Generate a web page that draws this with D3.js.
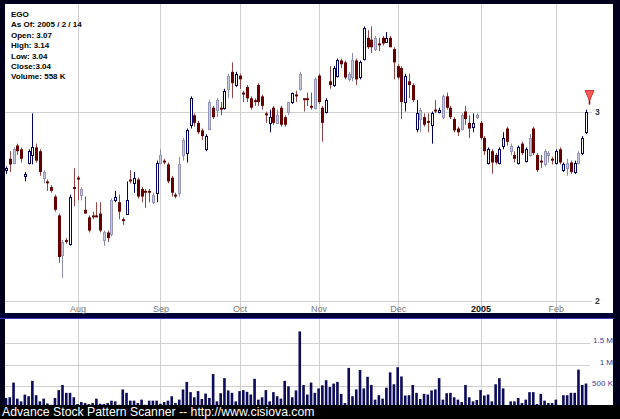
<!DOCTYPE html>
<html><head><meta charset="utf-8">
<script src="https://cdn.jsdelivr.net/npm/d3@7"></script>
<style>html,body{margin:0;padding:0;background:#000;} svg{display:block;}</style>
</head><body>
<svg id="c" width="620" height="419"></svg>
<script>
// ---- data ----
const openP = [2.69,2.75,2.73,2.82,2.80,2.66,2.73,2.77,2.81,2.79,2.65,2.63,2.60,2.55,2.45,2.24,2.32,2.30,2.60,2.65,
2.56,2.48,2.44,2.45,2.45,2.46,2.32,2.36,2.35,2.53,2.52,2.43,2.46,2.64,2.62,2.64,2.59,2.58,2.58,2.52,
2.57,2.73,2.74,2.72,2.65,2.56,2.57,2.77,2.78,2.93,2.98,2.94,2.90,2.80,2.91,3.02,3.01,3.02,3.02,3.12,
3.21,3.14,3.19,3.10,3.13,3.07,3.06,3.14,3.08,2.99,2.94,3.02,2.94,3.02,2.97,3.00,3.05,3.09,3.12,3.07,
3.07,3.03,3.02,3.19,3.02,3.00,3.16,3.14,3.19,3.27,3.26,3.17,3.18,3.27,3.18,3.28,3.39,3.38,3.33,3.36,
3.39,3.37,3.39,3.33,3.24,3.23,3.05,3.16,3.14,2.91,2.96,2.97,2.95,2.93,3.01,3.00,2.97,3.08,3.02,2.96,
2.91,2.91,3.00,2.94,2.92,2.97,2.94,2.86,2.73,2.79,2.77,2.73,2.82,2.91,2.79,2.77,2.73,2.83,2.74,2.77,
2.91,2.77,2.74,2.72,2.77,2.75,2.73,2.80,2.69,2.70,2.73,2.68,2.73,2.78,2.89];
const highP = [2.71,2.79,2.81,2.83,2.81,2.68,2.80,2.99,2.83,2.80,2.69,2.64,2.61,2.56,2.46,2.32,2.33,2.56,2.70,2.66,
2.60,2.55,2.45,2.47,2.52,2.52,2.37,2.37,2.54,2.58,2.56,2.44,2.63,2.69,2.68,2.65,2.60,2.59,2.59,2.57,
2.74,2.80,2.75,2.73,2.66,2.57,2.76,2.86,2.91,3.08,2.99,2.95,2.91,2.88,3.06,3.03,3.07,3.05,3.12,3.20,
3.26,3.21,3.20,3.11,3.14,3.08,3.07,3.15,3.09,3.00,3.01,3.03,3.01,3.03,2.98,3.05,3.10,3.11,3.21,3.07,
3.10,3.10,3.18,3.20,3.03,3.07,3.24,3.24,3.28,3.28,3.27,3.21,3.31,3.28,3.27,3.45,3.43,3.45,3.40,3.39,
3.40,3.42,3.40,3.34,3.25,3.24,3.20,3.20,3.15,3.06,3.02,2.99,2.99,3.00,3.06,3.02,3.09,3.10,3.03,2.97,
2.92,2.99,3.03,2.98,2.99,2.99,2.95,2.87,2.81,2.80,2.78,2.81,2.89,2.92,2.83,2.79,2.82,2.84,2.81,2.88,
2.92,2.78,2.77,2.80,2.79,2.76,2.80,2.81,2.73,2.75,2.74,2.74,2.79,2.87,3.01];
const lowP = [2.67,2.68,2.72,2.77,2.73,2.63,2.72,2.72,2.73,2.66,2.62,2.58,2.57,2.47,2.20,2.12,2.30,2.29,2.50,2.53,
2.53,2.46,2.36,2.43,2.44,2.36,2.29,2.31,2.34,2.52,2.43,2.40,2.46,2.62,2.57,2.54,2.52,2.49,2.52,2.51,
2.52,2.72,2.72,2.62,2.55,2.54,2.55,2.74,2.73,2.91,2.92,2.88,2.85,2.79,2.90,2.96,2.97,2.98,3.01,3.07,
3.07,3.13,3.12,3.05,3.05,3.01,3.03,3.03,3.01,2.94,2.89,2.93,2.94,2.92,2.92,2.98,3.04,3.05,3.11,3.00,
3.03,3.01,3.01,3.04,2.84,2.99,3.12,3.13,3.18,3.23,3.17,3.16,3.16,3.14,3.17,3.27,3.33,3.31,3.32,3.32,
3.35,3.37,3.34,3.17,3.17,2.96,3.00,3.07,3.05,2.89,2.89,2.92,2.89,2.83,2.99,2.99,2.96,3.01,2.96,2.89,
2.87,2.90,2.93,2.86,2.89,2.96,2.85,2.77,2.72,2.67,2.72,2.72,2.80,2.82,2.77,2.73,2.72,2.77,2.73,2.76,
2.77,2.68,2.70,2.71,2.73,2.72,2.72,2.72,2.68,2.66,2.67,2.67,2.72,2.77,2.88];
const closeP = [2.70,2.72,2.80,2.79,2.75,2.67,2.79,2.81,2.74,2.68,2.68,2.62,2.58,2.48,2.23,2.31,2.31,2.55,2.59,2.64,
2.59,2.46,2.37,2.44,2.44,2.37,2.36,2.33,2.53,2.55,2.47,2.42,2.53,2.63,2.65,2.55,2.55,2.57,2.57,2.56,
2.73,2.77,2.73,2.63,2.57,2.55,2.72,2.85,2.90,3.07,2.94,2.89,2.87,2.87,3.05,2.97,3.06,3.01,3.11,3.19,
3.15,3.20,3.17,3.09,3.07,3.02,3.05,3.05,3.03,2.98,2.97,2.94,2.98,2.93,2.93,3.05,3.10,3.08,3.20,3.06,
3.06,3.02,3.17,3.05,2.94,3.06,3.14,3.23,3.27,3.25,3.18,3.20,3.27,3.17,3.26,3.44,3.34,3.34,3.39,3.35,
3.36,3.39,3.34,3.26,3.18,3.05,3.19,3.14,3.06,2.99,3.01,2.93,2.94,2.99,3.00,3.01,3.08,3.02,2.97,2.90,
2.89,2.98,2.96,2.91,2.94,2.98,2.86,2.79,2.80,2.73,2.73,2.80,2.86,2.84,2.82,2.75,2.81,2.78,2.80,2.86,
2.78,2.69,2.73,2.79,2.78,2.74,2.79,2.73,2.72,2.73,2.68,2.73,2.78,2.86,3.00];
const volumeK = [222,238,580,206,143,300,262,620,286,143,206,95,63,222,405,524,341,341,238,80,
127,103,80,103,206,87,80,103,159,143,63,420,341,159,159,103,183,63,159,159,
159,87,127,159,262,103,183,420,595,357,238,381,198,325,222,778,143,333,683,397,
341,143,381,405,365,302,667,183,238,405,143,357,262,206,620,492,238,397,1770,524,
302,579,341,444,516,635,476,556,595,317,103,921,262,421,873,444,714,524,183,286,
206,460,817,540,937,722,278,286,524,341,198,317,302,397,421,683,183,333,341,238,
183,127,524,238,143,175,405,278,302,143,540,683,444,60,143,143,222,103,183,357,
357,80,317,159,103,103,183,60,286,286,341,341,881,524,558];
// bars drawn as pale (shaded) up-candles in the reference
const weakUpIdx = [2,10,15,20,26,28,39,41,46,47,54,56,59,72,75,78,82,91,92,98,110,116,121,125,134,139,143,144,149,152];
const monthIdx = [19,41,62,83,104,126,146];
const monthLabels = ["Aug","Sep","Oct","Nov","Dec","2005","Feb"];
const priceTicks = [2,3];
const volTicks = [500,1000,1500];
const infoLines = ["EGO","As Of: 2005 / 2 / 14","Open: 3.07","High: 3.14","Low: 3.04","Close:3.04","Volume: 558 K"];
const footerText = "Advance Stock Pattern Scanner -- http://www.cisiova.com";

// ---- drawing ----
const W = 620, H = 419;
const svg = d3.select("#c");
const n = closeP.length;
const bars = d3.range(n).map(i => ({i, o:openP[i], h:highP[i], l:lowP[i], c:closeP[i], v:volumeK[i], weak: weakUpIdx.includes(i)}));

const x = d3.scaleLinear().domain([0, n-1]).range([6, 586]);
const y = d3.scaleLinear().domain([2, 3]).range([300.5, 111.5]);
const yV = d3.scaleLinear().domain([0, 1000]).range([407.5, 364.5]);

// frame
svg.append("rect").attr("width", W).attr("height", H).attr("fill", "#00001c");
svg.append("rect").attr("x", 5).attr("y", 4).attr("width", 608).attr("height", 309).attr("fill", "#fff");
svg.append("rect").attr("x", 5).attr("y", 319).attr("width", 608).attr("height", 86).attr("fill", "#fff");
svg.append("rect").attr("x", 0).attr("y", 313).attr("width", 614).attr("height", 6).attr("fill", "#000038");
svg.append("line").attr("x1", 0).attr("x2", 614).attr("y1", 318.5).attr("y2", 318.5).attr("stroke", "#3a3ac0");

const grid = "#cfcfcf";
// vertical month gridlines
const gx = svg.append("g");
monthIdx.forEach(mi => {
  const px = Math.round(x(mi)) + 0.5;
  gx.append("line").attr("x1", px).attr("x2", px).attr("y1", 4).attr("y2", 313).attr("stroke", grid);
  gx.append("line").attr("x1", px).attr("x2", px).attr("y1", 319).attr("y2", 405).attr("stroke", grid);
});
// price gridlines
priceTicks.forEach(t => {
  const py = Math.round(y(t)) + 0.5;
  gx.append("line").attr("x1", 5).attr("x2", 592).attr("y1", py).attr("y2", py).attr("stroke", grid);
});
// volume gridlines
volTicks.forEach(t => {
  const py = Math.round(yV(t)) + 0.5;
  gx.append("line").attr("x1", 5).attr("x2", 590).attr("y1", py).attr("y2", py).attr("stroke", grid);
});

// price axis (right)
const pAxis = svg.append("g").attr("transform", "translate(592,0)")
  .call(d3.axisRight(y).tickValues(priceTicks).tickSize(0).tickPadding(3).tickFormat(d3.format("d")));
pAxis.select(".domain").remove();
pAxis.selectAll("text").attr("font-family", "Liberation Sans, Arial, sans-serif").attr("font-size", 8.5)
  .attr("font-weight", "bold").attr("fill", "#333");

// month axis
const mAxis = svg.append("g").attr("transform", "translate(0,301)")
  .call(d3.axisBottom(x).tickValues(monthIdx).tickSize(0).tickPadding(5).tickFormat((d, k) => monthLabels[k]));
mAxis.select(".domain").remove();
mAxis.selectAll("text").attr("font-family", "Liberation Sans, Arial, sans-serif").attr("font-size", 9)
  .attr("fill", (d, k) => monthLabels[k] === "2005" ? "#111" : "#777")
  .attr("font-weight", (d, k) => monthLabels[k] === "2005" ? "bold" : "normal");

// volume axis labels
const vAxis = svg.append("g").attr("transform", "translate(613,0)")
  .call(d3.axisLeft(yV).tickValues(volTicks).tickSize(0).tickPadding(0)
    .tickFormat(v => v >= 1000 ? (v / 1000) + " M" : v + " K"));
vAxis.select(".domain").remove();
vAxis.selectAll("text").attr("font-family", "Liberation Sans, Arial, sans-serif").attr("font-size", 8)
  .attr("fill", "#3a3a9a").attr("dy", "-0.05em");

// volume bars
svg.append("g").selectAll("rect").data(bars).join("rect")
  .attr("x", d => x(d.i) - 1.3).attr("width", 2.6)
  .attr("y", d => yV(d.v)).attr("height", d => yV(0) - yV(d.v))
  .attr("fill", "#0c0c5a");

// candles
const cg = svg.append("g");
bars.forEach(d => {
  const cx = Math.round(x(d.i)) + 0.5;
  const down = d.c < d.o;
  const wickCol = down ? "#8e4646" : (d.weak ? "#8a8aae" : "#000066");
  cg.append("line").attr("x1", cx).attr("x2", cx).attr("y1", y(d.h)).attr("y2", y(d.l))
    .attr("stroke", wickCol).attr("stroke-width", 1);
  if (down) {
    const t = y(d.o), b = y(d.c);
    cg.append("rect").attr("x", cx - 1.5).attr("width", 3).attr("y", t).attr("height", Math.max(1.2, b - t))
      .attr("fill", "#650000");
  } else {
    const t = Math.round(y(d.c)), b = Math.round(y(d.o));
    cg.append("rect").attr("x", cx - 1).attr("width", 2).attr("y", t + 0.5).attr("height", Math.max(1, b - t))
      .attr("fill", d.weak ? "#c9c9dd" : "#fff").attr("stroke", d.weak ? "#9696b8" : "#000066").attr("stroke-width", 1);
  }
});

// signal arrow above the last bar
const last = bars[n - 1];
const ax = Math.round(x(last.i)) + 3.5, ay = y(last.h) - 5;
svg.append("line").attr("x1", ax).attr("x2", ax).attr("y1", ay - 14).attr("y2", ay).attr("stroke", "#990000").attr("stroke-width", 1.5);
svg.append("path").attr("d", `M${ax - 4.5},${ay - 14} L${ax + 4.5},${ay - 14} L${ax},${ay - 4} Z`)
  .attr("fill", "#ff5a5a").attr("stroke", "#cc1111").attr("stroke-width", 0.8);

// info text
svg.append("g").selectAll("text").data(infoLines).join("text")
  .attr("x", 11).attr("y", (d, k) => 17 + k * 10.4)
  .attr("font-family", "Liberation Sans, Arial, sans-serif").attr("font-size", 8).attr("font-weight", "bold")
  .attr("fill", "#000").text(d => d);

// footer
svg.append("rect").attr("x", 0).attr("y", 405).attr("width", W).attr("height", 14).attr("fill", "#000");
svg.append("text").attr("x", 2).attr("y", 416).attr("font-family", "Liberation Sans, Arial, sans-serif")
  .attr("font-size", 12.25).attr("fill", "#fff").text(footerText);
</script>
</body></html>
